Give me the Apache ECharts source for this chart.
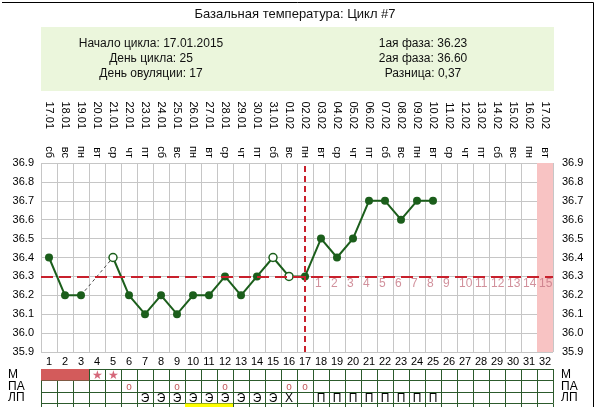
<!DOCTYPE html>
<html>
<head>
<meta charset="utf-8">
<script src="https://cdn.jsdelivr.net/npm/echarts@6/dist/echarts.min.js"></script>
<style>
html,body{margin:0;padding:0;background:#fff;overflow:hidden;}
#chart{width:603px;height:407px;}
</style>
</head>
<body>
<div id="chart"></div>
<script>
// ---- data ----
const dayLabels = ['1','2','3','4','5','6','7','8','9','10','11','12','13','14','15','16','17','18','19','20','21','22','23','24','25','26','27','28','29','30','31','32'];
const weekdays = ['сб','вс','пн','вт','ср','чт','пт','сб','вс','пн','вт','ср','чт','пт','сб','вс','пн','вт','ср','чт','пт','сб','вс','пн','вт','ср','чт','пт','сб','вс','пн','вт'];
const dates = ['17.01','18.01','19.01','20.01','21.01','22.01','23.01','24.01','25.01','26.01','27.01','28.01','29.01','30.01','31.01','01.02','02.02','03.02','04.02','05.02','06.02','07.02','08.02','09.02','10.02','11.02','12.02','13.02','14.02','15.02','16.02','17.02'];
const temps = [36.4,36.2,36.2,null,36.4,36.2,36.1,36.2,36.1,36.2,36.2,36.3,36.2,36.3,36.4,36.3,36.3,36.5,36.4,36.5,36.7,36.7,36.6,36.7,36.7];
const openMarkerDays = ['5','15','16'];
const gapFrom = ['3', 36.2];
const gapTo = ['5', 36.4];
const coverline = 36.3;
const ovulationDay = '17';
const postOvDays = ['18','19','20','21','22','23','24','25','26','27','28','29','30','31','32'];
const postOvNumbers = ['1','2','3','4','5','6','7','8','9','10','11','12','13','14','15'];
const shadedDay = '32';
const yMin = 35.9, yMax = 36.9, yStep = 0.1;
const tableRows = ['М','ПА','ЛП'];
const extraRow = [''];
const menstruationDays = ['1','2','3'];
const spottingDays = ['4','5'];
const paDays = ['6','9','12','16','17'];
const lpDays = ['7','8','9','10','11','12','13','14','15','16','18','19','20','21','22','23','24','25'];
const lpMarks = ['Э','Э','Э','Э','Э','Э','Э','Э','Э','Х','П','П','П','П','П','П','П','П'];
const yellowDays = ['10','11','12'];
const titleText = 'Базальная температура: Цикл #7';
const infoLeft = ['Начало цикла: 17.01.2015','День цикла: 25','День овуляции: 17'];
const infoRight = ['1ая фаза: 36.23','2ая фаза: 36.60','Разница: 0,37'];

// ---- styles ----
const FONT = '"Liberation Sans", Arial, sans-serif';
const GREEN = '#1b5e1b';
const RED = '#c8202c';
const GRID = '#c6c6c6';
const TABLE = '#2c5a2c';

const tempData = temps.map((v, i) => {
  if (v === null) return null;
  if (openMarkerDays.indexOf(dayLabels[i]) >= 0) {
    return { value: v, itemStyle: { color: '#ffffff', borderColor: GREEN, borderWidth: 1.5 } };
  }
  return v;
});

const shadeData = dayLabels.map(d => d === shadedDay ? yMax : null);

const postOvData = postOvDays.map((d, i) => ({ value: [d, coverline], label: { formatter: postOvNumbers[i] } }));

const redCells = menstruationDays.map(d => [d, 'М']);
const yellowCells = yellowDays.map(d => [d, '']);

const cellTexts = [];
spottingDays.forEach(d => cellTexts.push({ value: [d, 'М'], t: '★', color: '#d5677a', size: 12 }));
paDays.forEach(d => cellTexts.push({ value: [d, 'ПА'], t: 'o', color: '#c25a5a', size: 10 }));
lpDays.forEach((d, i) => cellTexts.push({ value: [d, 'ЛП'], t: lpMarks[i], color: '#000', size: 12 }));

const chart = echarts.init(document.getElementById('chart'), null, { renderer: 'canvas' });

const hdr = (x, y, t, size) => ({ type: 'text', x: x, y: y, style: { text: t, fill: '#111', font: size + 'px ' + FONT, align: 'center', verticalAlign: 'middle' } });

const cellRect = color => function (params, api) {
  const c = api.coord([api.value(0), api.value(1)]);
  const s = api.size([1, 1]);
  return { type: 'rect', shape: { x: c[0] - s[0] / 2, y: c[1] - s[1] / 2, width: s[0], height: s[1] }, style: { fill: color } };
};

const tableX = gi => ({
  type: 'category', gridIndex: gi, data: dayLabels, boundaryGap: true,
  axisLine: { show: false }, axisTick: { show: false }, axisLabel: { show: false },
  splitLine: { show: true, interval: 0, lineStyle: { color: TABLE, width: 1 } }
});

const option = {
  animation: false,
  backgroundColor: '#ffffff',
  textStyle: { fontFamily: FONT },
  graphic: [
    { type: 'line', shape: { x1: 2, y1: 2.5, x2: 593.5, y2: 2.5 }, style: { stroke: '#000', lineWidth: 1 } },
    { type: 'line', shape: { x1: 593.5, y1: 2.5, x2: 593.5, y2: 407 }, style: { stroke: '#000', lineWidth: 1 } },
    { type: 'rect', shape: { x: 41, y: 27, width: 513, height: 64 }, style: { fill: '#ebf6dc' } },
    hdr(295, 14, titleText, 13),
    hdr(151, 44, infoLeft[0], 12),
    hdr(151, 59, infoLeft[1], 12),
    hdr(151, 74, infoLeft[2], 12),
    hdr(423, 44, infoRight[0], 12),
    hdr(423, 59, infoRight[1], 12),
    hdr(423, 74, infoRight[2], 12)
  ],
  grid: [
    { left: 41, width: 512, top: 163, height: 189, outerBoundsMode: 'none' },
    { left: 41, width: 512, top: 369, height: 34.5, outerBoundsMode: 'none' },
    { left: 41, width: 512, top: 403.5, height: 3.5, outerBoundsMode: 'none' }
  ],
  xAxis: [
    {
      type: 'category', gridIndex: 0, position: 'bottom', data: dayLabels, boundaryGap: true,
      axisLine: { show: false }, axisTick: { show: false },
      axisLabel: { interval: 0, margin: 4, fontSize: 11, color: '#000', fontFamily: FONT },
      splitLine: { show: true, interval: 0, lineStyle: { color: GRID, width: 1 } }
    },
    {
      type: 'category', gridIndex: 0, position: 'top', data: weekdays, boundaryGap: true,
      axisLine: { show: false }, axisTick: { show: false },
      axisLabel: { interval: 0, rotate: 90, margin: 5, fontSize: 11, color: '#000', fontFamily: FONT },
      splitLine: { show: false }
    },
    {
      type: 'category', gridIndex: 0, position: 'top', data: dates, boundaryGap: true,
      axisLine: { show: false }, axisTick: { show: false },
      axisLabel: { interval: 0, rotate: 90, margin: 34, fontSize: 11, color: '#000', fontFamily: FONT },
      splitLine: { show: false }
    },
    tableX(1),
    tableX(2)
  ],
  yAxis: [
    {
      type: 'value', gridIndex: 0, min: yMin, max: yMax, interval: yStep, position: 'left',
      axisLine: { show: false }, axisTick: { show: false },
      axisLabel: { margin: 7, fontSize: 11, color: '#000', fontFamily: FONT, formatter: v => v.toFixed(1) },
      splitLine: { show: true, lineStyle: { color: GRID, width: 1 } }
    },
    {
      type: 'value', gridIndex: 0, min: yMin, max: yMax, interval: yStep, position: 'right',
      axisLine: { show: false }, axisTick: { show: false },
      axisLabel: { margin: 9, fontSize: 11, color: '#000', fontFamily: FONT, formatter: v => v.toFixed(1) },
      splitLine: { show: false }
    },
    {
      type: 'category', gridIndex: 1, data: tableRows, inverse: true, position: 'left', boundaryGap: true,
      axisLine: { show: false }, axisTick: { show: false },
      axisLabel: { interval: 0, margin: 33, align: 'left', fontSize: 12, color: '#000', fontFamily: FONT },
      splitLine: { show: true, interval: 0, lineStyle: { color: TABLE, width: 1 } }
    },
    {
      type: 'category', gridIndex: 1, data: tableRows, inverse: true, position: 'right', boundaryGap: true,
      axisLine: { show: false }, axisTick: { show: false },
      axisLabel: { interval: 0, margin: 8, align: 'left', fontSize: 12, color: '#000', fontFamily: FONT },
      splitLine: { show: false }
    },
    {
      type: 'category', gridIndex: 2, data: extraRow, boundaryGap: true,
      axisLine: { show: false }, axisTick: { show: false }, axisLabel: { show: false },
      splitLine: { show: true, interval: 0, lineStyle: { color: TABLE, width: 1 } }
    }
  ],
  series: [
    {
      type: 'bar', xAxisIndex: 0, yAxisIndex: 0, data: shadeData, barWidth: '100%', silent: true,
      itemStyle: { color: '#f8c3c3' }, z: 1
    },
    {
      type: 'line', xAxisIndex: 0, yAxisIndex: 0,
      data: [[gapFrom[0], gapFrom[1]], [gapTo[0], gapTo[1]]],
      symbol: 'none', lineStyle: { color: '#444', width: 1, type: [3, 3] }, z: 2, silent: true
    },
    {
      type: 'line', xAxisIndex: 0, yAxisIndex: 0, data: tempData, connectNulls: false,
      symbol: 'circle', symbolSize: 8, showAllSymbol: true,
      lineStyle: { color: GREEN, width: 2 }, itemStyle: { color: GREEN }, z: 3, silent: true
    },
    {
      type: 'line', xAxisIndex: 0, yAxisIndex: 0, data: [], z: 5, silent: true,
      markLine: {
        silent: true, symbol: 'none', label: { show: false },
        data: [
          { yAxis: coverline, lineStyle: { color: RED, width: 2, type: [12, 6] } },
          { xAxis: ovulationDay, lineStyle: { color: RED, width: 2, type: [6, 4] } }
        ]
      }
    },
    {
      type: 'scatter', xAxisIndex: 0, yAxisIndex: 0, data: postOvData, symbolSize: 1,
      itemStyle: { color: 'rgba(0,0,0,0)' }, silent: true, z: 4,
      label: { show: true, position: 'inside', align: 'left', verticalAlign: 'middle', offset: [-6, 7], color: '#c57583', fontSize: 12, fontFamily: FONT }
    },
    {
      type: 'custom', xAxisIndex: 3, yAxisIndex: 2, data: redCells, silent: true, z: 3,
      renderItem: cellRect('#d35b5b')
    },
    {
      type: 'custom', xAxisIndex: 4, yAxisIndex: 4, data: yellowCells, silent: true, z: 3,
      renderItem: cellRect('#ffff00')
    },
    {
      type: 'custom', xAxisIndex: 3, yAxisIndex: 2, data: cellTexts.map(c => c.value), silent: true, z: 4,
      renderItem: function (params, api) {
        const c = api.coord([api.value(0), api.value(1)]);
        const it = cellTexts[params.dataIndex];
        return { type: 'text', x: c[0], y: c[1] + 0.5, style: { text: it.t, fill: it.color, font: it.size + 'px ' + FONT, align: 'center', verticalAlign: 'middle' } };
      }
    }
  ]
};
chart.setOption(option);
</script>
</body>
</html>
